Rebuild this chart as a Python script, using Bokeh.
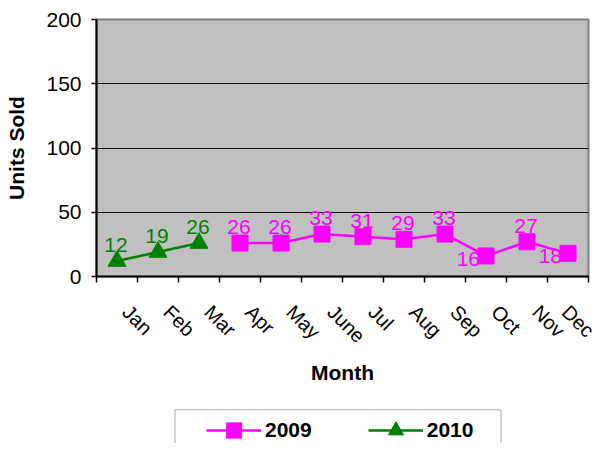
import math
from bokeh.plotting import figure
from bokeh.layouts import column
from bokeh.models import (ColumnDataSource, FixedTicker, Range1d, Legend, LegendItem, BoxAnnotation)
from bokeh.core.properties import value
from bokeh.embed import file_html
from bokeh.resources import INLINE

# ---- data ----
months = ["Jan", "Feb", "Mar", "Apr", "May", "June", "Jul", "Aug", "Sep", "Oct", "Nov", "Dec"]
months_2009 = ["Apr", "May", "June", "Jul", "Aug", "Sep", "Oct", "Nov", "Dec"]
units_2009 = [26, 26, 33, 31, 29, 33, 16, 27, 18]
months_2010 = ["Jan", "Feb", "Mar"]
units_2010 = [12, 19, 26]
y_ticks = [0, 50, 100, 150, 200]
series_names = ["2009", "2010"]
label_side_2009 = ["above", "above", "above", "above", "above", "above", "left", "above", "left"]
label_side_2010 = ["above", "above", "above"]

FONT = "Liberation Sans"
PINK = "#FF00FF"
GREEN = "#008000"

def xpos(ms):
    return [months.index(m) + 0.5 for m in ms]

p = figure(width=598, height=400, output_backend="svg", toolbar_location=None,
           x_range=Range1d(0, 12), y_range=Range1d(0, 200),
           min_border_left=96, min_border_right=10, min_border_top=19, min_border_bottom=124)
p.background_fill_color = "#C0C0C0"
p.border_fill_color = "white"
p.outline_line_color = "#808080"
p.outline_line_width = 2

# axes
label_ticks = [round(i + 0.72, 2) for i in range(12)]
xa = p.xaxis[0]
xa.ticker = FixedTicker(ticks=label_ticks, minor_ticks=list(range(13)))
xa.major_label_overrides = {t: m for t, m in zip(label_ticks, months)}
xa.major_tick_out = 0
xa.major_tick_in = 0
xa.minor_tick_out = 6
xa.minor_tick_in = 0
xa.minor_tick_line_color = "black"
xa.minor_tick_line_width = 1.5
xa.axis_line_color = "black"
xa.axis_line_width = 2
xa.major_label_orientation = -math.pi / 4
xa.major_label_standoff = 26
xa.major_label_text_font = FONT
xa.major_label_text_font_size = "20px"
xa.major_label_text_color = "black"
xa.axis_label = "Month"
xa.axis_label_text_font = FONT
xa.axis_label_text_font_size = "21px"
xa.axis_label_text_font_style = "bold"
xa.axis_label_text_color = "black"
xa.axis_label_standoff = 3

ya = p.yaxis[0]
ya.ticker = FixedTicker(ticks=y_ticks, minor_ticks=[])
ya.major_tick_out = 5
ya.major_tick_in = 0
ya.major_tick_line_color = "black"
ya.major_tick_line_width = 1.5
ya.axis_line_color = "black"
ya.axis_line_width = 2
ya.major_label_standoff = 10
ya.major_label_text_font = FONT
ya.major_label_text_font_size = "21px"
ya.major_label_text_color = "black"
ya.axis_label = "Units Sold"
ya.axis_label_text_font = FONT
ya.axis_label_text_font_size = "21px"
ya.axis_label_text_font_style = "bold"
ya.axis_label_text_color = "black"
ya.axis_label_standoff = 15

p.xgrid.visible = False
p.ygrid[0].ticker = FixedTicker(ticks=[t for t in y_ticks if 0 < t < 200])
p.ygrid.grid_line_color = "black"
p.ygrid.grid_line_width = 1

src09 = ColumnDataSource(dict(x=xpos(months_2009), y=units_2009,
                              t=[str(v) for v in units_2009], side=label_side_2009))
src10 = ColumnDataSource(dict(x=xpos(months_2010), y=units_2010,
                              t=[str(v) for v in units_2010], side=label_side_2010))

p.line("x", "y", source=src09, line_color=PINK, line_width=2.5)
p.scatter("x", "y", source=src09, marker="square", size=16, fill_color=PINK, line_color=PINK)
p.line("x", "y", source=src10, line_color=GREEN, line_width=2.5)
p.scatter("x", "y", source=src10, marker="triangle", size=18, fill_color=GREEN, line_color=GREEN)

def add_labels(src_dict, color):
    above = {k: [v for v, s in zip(src_dict[k], src_dict["side"]) if s == "above"] for k in ("x", "y", "t")}
    left = {k: [v for v, s in zip(src_dict[k], src_dict["side"]) if s == "left"] for k in ("x", "y", "t")}
    if above["x"]:
        p.text("x", "y", text="t", source=ColumnDataSource(above), text_color=color,
               text_font=value(FONT), text_font_size="21px", text_align="center",
               text_baseline="middle", x_offset=-1, y_offset=-16)
    if left["x"]:
        p.text("x", "y", text="t", source=ColumnDataSource(left), text_color=color,
               text_font=value(FONT), text_font_size="21px", text_align="right",
               text_baseline="middle", x_offset=-6, y_offset=3)

add_labels(src09.data, PINK)
add_labels(src10.data, GREEN)

# ---- legend strip below the chart (same series, out-of-view range) ----
q = figure(width=598, height=43, output_backend="svg", toolbar_location=None,
           x_axis_location=None, y_axis_location=None,
           min_border_left=96, min_border_right=10, min_border_top=0, min_border_bottom=0,
           x_range=Range1d(-2, -1), y_range=Range1d(-2, -1))
q.outline_line_color = None
q.background_fill_color = "white"
q.border_fill_color = "white"
q.xgrid.visible = False
q.ygrid.visible = False
k09l = q.line("x", "y", source=src09, line_color=PINK, line_width=2.5)
k09m = q.scatter("x", "y", source=src09, marker="square", size=16, fill_color=PINK, line_color=PINK)
k10l = q.line("x", "y", source=src10, line_color=GREEN, line_width=2.5)
k10m = q.scatter("x", "y", source=src10, marker="triangle", size=18, fill_color=GREEN, line_color=GREEN)

# legend frame (screen units relative to the strip's frame)
legend_box = BoxAnnotation(left=78.5, right=404.5, top=33.7, bottom=-20,
                           left_units="screen", right_units="screen",
                           top_units="screen", bottom_units="screen",
                           fill_color="white", fill_alpha=1,
                           line_color="#404040", line_width=1.5)
q.add_layout(legend_box)

legend = Legend(items=[LegendItem(label=series_names[0], renderers=[k09l, k09m]),
                       LegendItem(label=series_names[1], renderers=[k10l, k10m])],
                orientation="horizontal", location=(110, -6))
legend.margin = 0
legend.padding = 4
legend.spacing = 56
legend.glyph_width = 55
legend.glyph_height = 38
legend.label_height = 20
legend.label_standoff = 4
legend.label_text_font = FONT
legend.label_text_font_size = "21px"
legend.label_text_font_style = "bold"
legend.label_text_color = "black"
legend.border_line_color = None
legend.background_fill_alpha = 0
q.add_layout(legend, "center")

layout = column(p, q, spacing=0)
open("out.html", "w").write(file_html(layout, INLINE))
